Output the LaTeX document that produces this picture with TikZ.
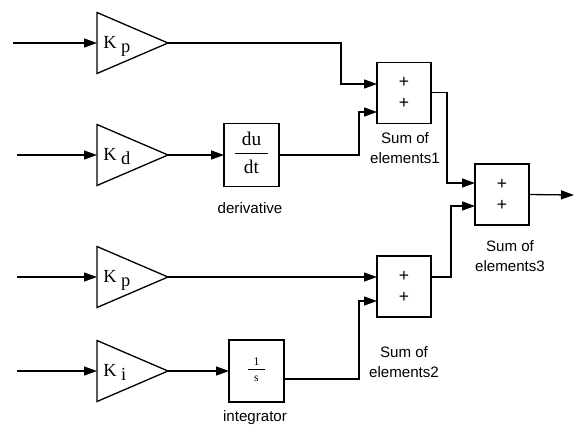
\documentclass[tikz,border=0pt]{standalone}
\usepackage{fontspec}
\setmainfont{Liberation Serif}
\setsansfont{Liberation Sans}
\usetikzlibrary{arrows.meta,positioning,shapes.geometric}
\tikzset{
  gain/.style={isosceles triangle, isosceles triangle stretches, draw=black, line width=0.75pt, minimum height=1.42cm, minimum width=1.22cm, inner sep=0pt, outer sep=0pt, anchor=west},
  block/.style={rectangle, draw=black, line width=0.75pt, minimum width=1.1cm, minimum height=1.25cm, inner sep=0pt, outer sep=0pt},
  sumblock/.style={rectangle, draw=black, line width=0.75pt, minimum width=1.08cm, minimum height=1.22cm, inner sep=0pt, outer sep=0pt, align=center, font=\sffamily\fontsize{10}{11.9}\selectfont},
  klabel/.style={inner sep=0pt, anchor=base west, font=\fontsize{10.5}{12}\selectfont},
  caption/.style={inner sep=0pt, align=center, font=\sffamily\fontsize{8.6}{11.3}\selectfont},
  wire/.style={line width=0.75pt},
  arrow/.style={-{Triangle[length=2.6mm,width=1.8mm]}, line width=0.75pt}
}
\newcommand{\ksub}[1]{K\hspace{2.5pt}\raisebox{-0.55ex}{#1}}

\begin{document}
\begin{tikzpicture}[x=0.02cm, y=-0.02cm]
  \useasboundingbox (0,0) rectangle (574,427);
  % gains
  \node[gain] (g1) at (97,43) {};
  \node[gain] (g2) at (97,155) {};
  \node[gain] (g3) at (97,277) {};
  \node[gain] (g4) at (97,371) {};
  \node[klabel] (k1) at (103,48) {\ksub{p}};
  \node[klabel] (k2) at (103,160) {\ksub{d}};
  \node[klabel] (k3) at (103,282) {\ksub{p}};
  \node[klabel] (k4) at (103,376) {\ksub{i}};
  % blocks
  \node[block] (der) at (251.5,155) {\fontsize{11}{12}\selectfont\begin{tabular}{@{\hspace{4pt}}c@{\hspace{4pt}}}du\\[1pt]\hline\rule{0pt}{11pt}dt\end{tabular}};
  \node[block, minimum height=1.24cm] (int) at (256.5,371) {\fontsize{6.6}{7}\selectfont\begin{tabular}{@{\hspace{3pt}}c@{\hspace{3pt}}}1\\[0pt]\hline\rule{0pt}{7pt}s\end{tabular}};
  \node[sumblock] (s1) at (404,92.8) {+\\+};
  \node[sumblock] (s2) at (404,286.5) {+\\+};
  \node[sumblock] (s3) at (502,194.5) {+\\+};
  % captions
  \node[caption] (c1) at (250,208) {derivative};
  \node[caption] (c2) at (255,418) {integrator};
  \node[caption] (c3) at (405,148) {Sum of\\elements1};
  \node[caption] (c4) at (404,362) {Sum of\\elements2};
  \node[caption] (c5) at (510,256.5) {Sum of\\elements3};
  % ports and bends
  \coordinate (in1) at (13,43);
  \coordinate (in2) at (17,155);
  \coordinate (in3) at (17,277);
  \coordinate (in4) at (17,371);
  \coordinate (s1a) at (377,84);
  \coordinate (s1b) at (377,112);
  \coordinate (s2a) at (377,277);
  \coordinate (s2b) at (377,301);
  \coordinate (s2o) at (431,277);
  \coordinate (s3a) at (475,183);
  \coordinate (s3b) at (475,206);
  \coordinate (into) at (284,379);
  \coordinate (j1) at (341,84);
  \coordinate (j2) at (359,112);
  \coordinate (j3) at (447,183);
  \coordinate (j4) at (451,206);
  \coordinate (j5) at (359,301);
  \coordinate (out) at (574,195);
  % wires
  \draw[arrow] (in1)--(g1.west); \draw[arrow] (in2)--(g2.west);
  \draw[arrow] (in3)--(g3.west); \draw[arrow] (in4)--(g4.west);
  \draw[arrow] (g1.apex) -| (j1) -- (s1a);
  \draw[arrow] (g2.apex) -- (der.west);
  \draw[arrow] (der.east) -| (j2) -- (s1b);
  \draw[arrow] (g3.apex) -- (s2a);
  \draw[arrow] (g4.apex) -- (int.west);
  \draw[arrow] (into) -| (j5) -- (s2b);
  \draw[arrow] (s1.east) -| (j3) -- (s3a);
  \draw[arrow] (s2o) -| (j4) -- (s3b);
  \draw[arrow] (s3.east) -- (out);
\end{tikzpicture}
\end{document}
